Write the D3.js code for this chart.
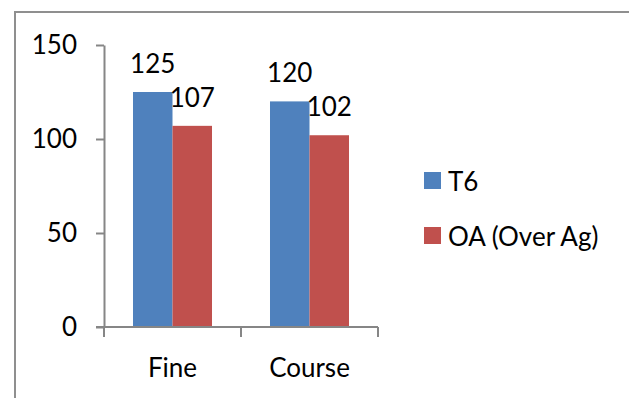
<!DOCTYPE html>
<html>
<head>
<meta charset="utf-8">
<script src="https://cdn.jsdelivr.net/npm/d3@7"></script>
<style>
body { margin: 0; background: #fff; }
svg text { font-family: Lato, "Open Sans", sans-serif; fill: #000; }
</style>
</head>
<body>
<svg id="chart" width="629" height="398"></svg>
<script>
// chart data
var categories = ["Fine", "Course"];
var seriesNames = ["T6", "OA (Over Ag)"];
var t6Values = [125, 120];
var oaValues = [107, 102];
var yTicks = [0, 50, 100, 150];
var colors = ["#4F81BD", "#C0504D"];

var svg = d3.select("#chart");
var fs = 26;

// outer frame (only top + left visible)
svg.append("path")
  .attr("d", "M15,398V12H629")
  .attr("fill", "none")
  .attr("stroke", "#8f8f8f")
  .attr("stroke-width", 2);

var y = d3.scaleLinear().domain([0, 150]).range([327, 45]);
var x0 = d3.scaleBand().domain(categories).range([104, 378]).paddingInner(0).paddingOuter(0);
var x1 = d3.scaleBand().domain(seriesNames).range([0, x0.bandwidth()]).paddingInner(0).paddingOuter(0.734);

var rows = categories.map(function(c, i) {
  return { cat: c, vals: [t6Values[i], oaValues[i]] };
});

// bars
var groups = svg.selectAll(".grp").data(rows).enter().append("g")
  .attr("transform", function(d) { return "translate(" + x0(d.cat) + ",0)"; });

groups.selectAll("rect").data(function(d) {
    return d.vals.map(function(v, j) { return { s: seriesNames[j], v: v, j: j }; });
  }).enter().append("rect")
  .attr("x", function(d) { return x1(d.s); })
  .attr("width", x1.bandwidth())
  .attr("y", function(d) { return y(d.v); })
  .attr("height", function(d) { return y(0) - y(d.v); })
  .attr("fill", function(d) { return colors[d.j]; });

// value labels
groups.selectAll(".lbl").data(function(d) {
    return d.vals.map(function(v, j) { return { s: seriesNames[j], v: v }; });
  }).enter().append("text")
  .attr("x", function(d) { return x1(d.s) + x1.bandwidth() / 2; })
  .attr("y", function(d) { return y(d.v) - 19; })
  .attr("text-anchor", "middle")
  .style("font-size", fs + "px")
  .text(function(d) { return d.v; });

// y axis
var yAxis = svg.append("g")
  .attr("transform", "translate(104,0)")
  .call(d3.axisLeft(y).tickValues(yTicks).tickSize(8).tickSizeOuter(0).tickPadding(19));
yAxis.selectAll("line, path").attr("stroke", "#868686").attr("stroke-width", 2);
yAxis.selectAll("text").style("font-size", fs + "px").attr("fill", "#000");

// x axis: labels centered, ticks at band edges
var xAxis = svg.append("g")
  .attr("transform", "translate(0,327)")
  .call(d3.axisBottom(x0).tickSize(0).tickPadding(32));
xAxis.select(".domain").attr("stroke", "#868686").attr("stroke-width", 2).attr("d", "M96,0H378");
xAxis.selectAll("text").style("font-size", fs + "px").attr("fill", "#000");

var edges = categories.map(function(c) { return x0(c); }).concat([x0.range()[1]]);
svg.append("g").selectAll("line").data(edges).enter().append("line")
  .attr("x1", function(d) { return d; }).attr("x2", function(d) { return d; })
  .attr("y1", 327).attr("y2", 337)
  .attr("stroke", "#868686").attr("stroke-width", 2);

// legend
var legend = svg.append("g").selectAll("g").data(seriesNames).enter().append("g")
  .attr("transform", function(d, i) { return "translate(424," + (172 + i * 55) + ")"; });
legend.append("rect").attr("width", 17).attr("height", 17)
  .attr("fill", function(d, i) { return colors[i]; });
legend.append("text").attr("x", 24).attr("y", 19)
  .style("font-size", fs + "px")
  .text(function(d) { return d; });
</script>
</body>
</html>
